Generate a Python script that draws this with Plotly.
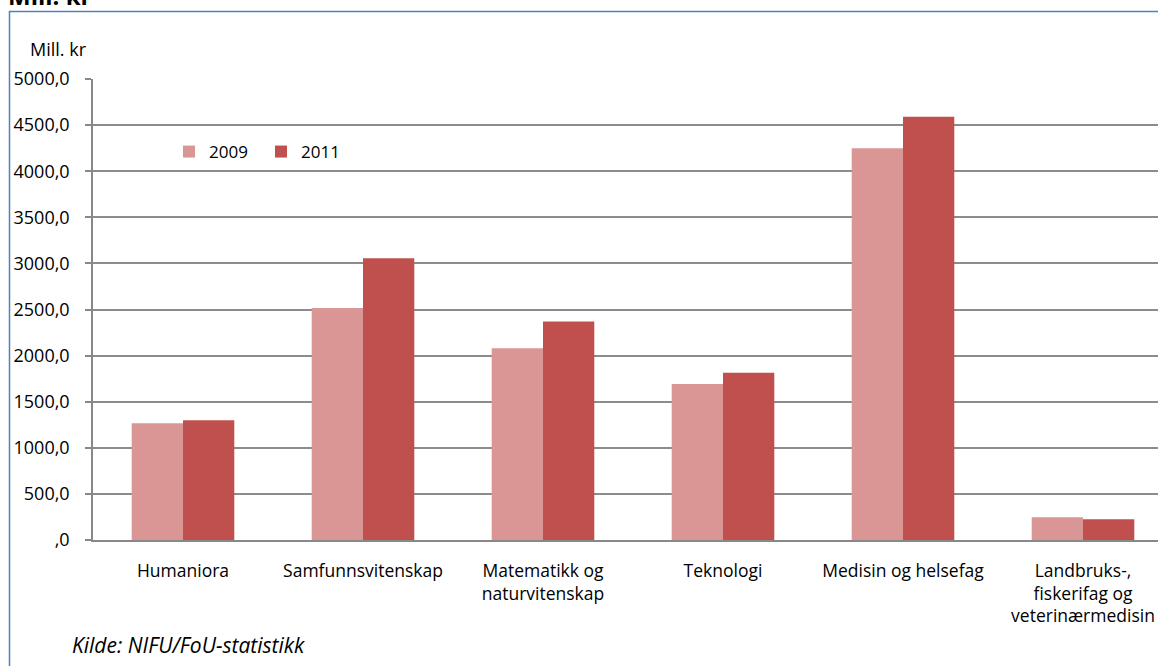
import plotly.graph_objects as go

categories = ["Humaniora", "Samfunnsvitenskap", "Matematikk og<br>naturvitenskap",
              "Teknologi", "Medisin og helsefag",
              "Landbruks-,<br>fiskerifag og<br>veterinærmedisin"]
values_2009 = [1265, 2515, 2080, 1692, 4250, 246]
values_2011 = [1300, 3055, 2370, 1815, 4590, 224]
tick_vals = [0, 500, 1000, 1500, 2000, 2500, 3000, 3500, 4000, 4500, 5000]
tick_text = [",0", "500,0", "1000,0", "1500,0", "2000,0", "2500,0", "3000,0",
             "3500,0", "4000,0", "4500,0", "5000,0"]

W, H = 1158, 666
L, T, B = 93, 79, 540
pw, ph = W - L, B - T

def px(x):
    return (x - L) / pw

def py(y):
    return (B - y) / ph

FONT = "Open Sans"
fig = go.Figure()
fig.add_trace(go.Bar(x=list(range(6)), y=values_2009, name="2009",
                     marker=dict(color="#D99694", line=dict(width=0))))
fig.add_trace(go.Bar(x=list(range(6)), y=values_2011, name="2011",
                     marker=dict(color="#C0504D", line=dict(width=0))))

fig.update_layout(
    width=W, height=H,
    margin=dict(l=L, r=0, t=T, b=H - B, pad=0),
    paper_bgcolor="white", plot_bgcolor="white",
    font=dict(family=FONT, size=17, color="black"),
    barmode="group", bargap=0.43, bargroupgap=0,
    showlegend=True,
    legend=dict(orientation="h", x=px(169), y=py(152), xanchor="left", yanchor="middle",
                font=dict(family=FONT, size=17), entrywidth=47, bgcolor="rgba(0,0,0,0)",
                itemsizing="constant"),
    xaxis=dict(range=[-0.5, -0.5 + pw / 180], tickvals=list(range(6)), ticktext=categories,
               showgrid=False, showline=True, linecolor="#888888", linewidth=1.5,
               ticks="", zeroline=False, fixedrange=True, tickfont=dict(size=17.5),
               ticklabelstandoff=14),
    yaxis=dict(range=[0, 5000], tickvals=tick_vals, ticktext=tick_text,
               showgrid=True, gridcolor="#8c8c8c", gridwidth=1.5,
               showline=True, linecolor="#888888", linewidth=1.5,
               ticks="outside", ticklen=6, tickcolor="#888888", tickwidth=1.5,
               zeroline=False, tickfont=dict(size=18), ticklabelstandoff=12),
)

fig.add_annotation(text="Mill. kr", xref="paper", yref="paper", x=px(28), y=py(49),
                   xanchor="left", yanchor="middle", showarrow=False,
                   font=dict(family=FONT, size=18))
fig.add_annotation(text="<i>Kilde: NIFU/FoU-statistikk</i>", xref="paper", yref="paper",
                   x=px(70), y=py(645), xanchor="left", yanchor="middle", showarrow=False,
                   font=dict(family=FONT, size=21))
fig.add_annotation(text="<b>Mill. kr</b>", xref="paper", yref="paper", x=px(6), y=py(14),
                   xanchor="left", yanchor="bottom", showarrow=False,
                   font=dict(family=FONT, size=24))
fig.add_shape(type="rect", xref="paper", yref="paper", x0=px(9.5), x1=px(1200),
              y0=py(700), y1=py(11.5), line=dict(color="#4F81BD", width=1.5),
              fillcolor="rgba(0,0,0,0)", layer="above")

fig.write_html("out.html", config={"displayModeBar": False},
               post_script="document.body.style.margin='0';")
